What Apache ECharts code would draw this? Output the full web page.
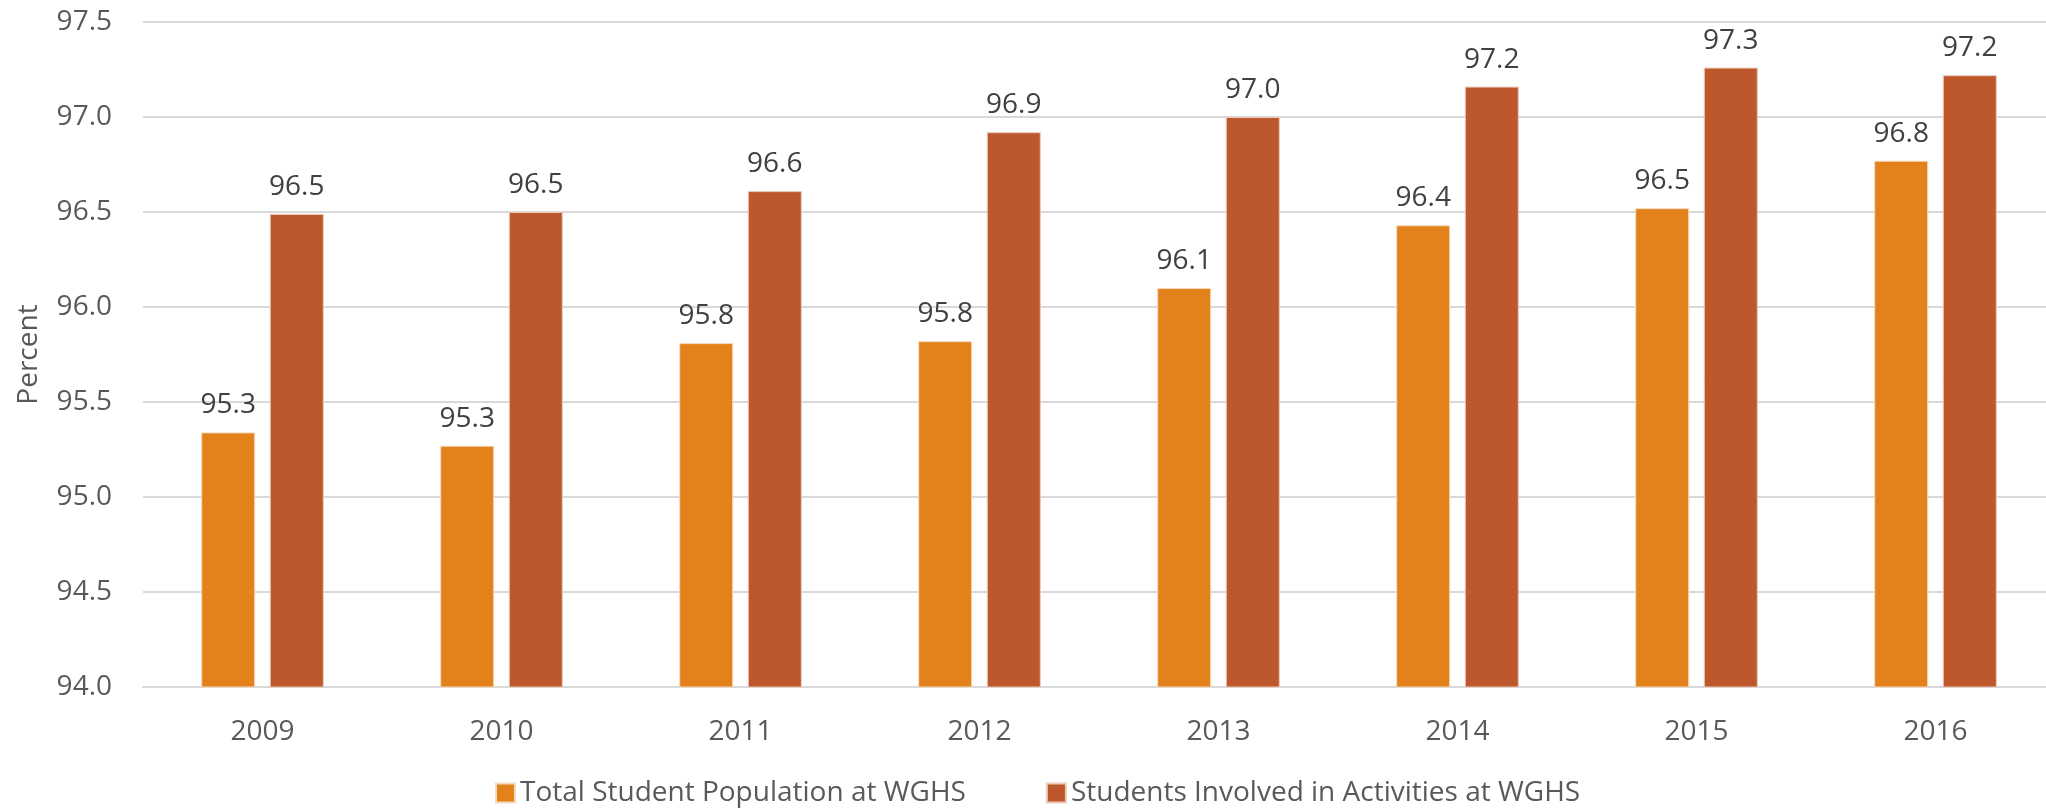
<!DOCTYPE html>
<html>
<head>
<meta charset="utf-8">
<script src="https://cdn.jsdelivr.net/npm/echarts@6/dist/echarts.min.js"></script>
<style>
  html, body { margin: 0; padding: 0; background: #ffffff; }
  #chart { width: 2046px; height: 808px; }
</style>
</head>
<body>
<div id="chart"></div>
<script>
const categories = ['2009', '2010', '2011', '2012', '2013', '2014', '2015', '2016'];
const totalPopulation = [95.34, 95.27, 95.81, 95.82, 96.10, 96.43, 96.52, 96.77];
const involvedActivities = [96.49, 96.50, 96.61, 96.92, 97.00, 97.16, 97.26, 97.22];
const seriesNames = ['Total Student Population at WGHS', 'Students Involved in Activities at WGHS'];
const yAxisName = 'Percent';

const FONT = '"Open Sans", "DejaVu Sans", sans-serif';
const chart = echarts.init(document.getElementById('chart'), null, { renderer: 'canvas' });

const labelStyle = {
  show: true,
  position: 'top',
  distance: 13,
  color: '#404040',
  fontFamily: FONT,
  fontSize: 28,
  formatter: p => p.value.toFixed(1)
};

chart.setOption({
  animation: false,
  backgroundColor: '#ffffff',
  grid: { left: 143, top: 22, width: 1912, height: 665, containLabel: false, outerBoundsMode: 'none' },
  legend: {
    show: true,
    top: 774,
    left: 490,
    itemWidth: 19,
    itemHeight: 19,
    itemGap: 80,
    textStyle: { color: '#595959', fontFamily: FONT, fontSize: 28 },
    data: seriesNames.map(n => ({ name: n, icon: 'rect' }))
  },
  xAxis: {
    type: 'category',
    data: categories,
    axisLine: { show: true, lineStyle: { color: '#d9d9d9', width: 2 } },
    axisTick: { show: false },
    axisLabel: { color: '#595959', fontFamily: FONT, fontSize: 28, margin: 31 }
  },
  yAxis: {
    type: 'value',
    min: 94,
    max: 97.5,
    interval: 0.5,
    name: yAxisName,
    nameLocation: 'middle',
    nameGap: 100,
    nameTextStyle: { color: '#595959', fontFamily: FONT, fontSize: 28 },
    axisLine: { show: false },
    axisTick: { show: false },
    splitLine: { lineStyle: { color: '#d9d9d9', width: 2 } },
    axisLabel: {
      color: '#595959', fontFamily: FONT, fontSize: 28, margin: 31,
      formatter: v => v.toFixed(1)
    }
  },
  series: [
    {
      name: seriesNames[0],
      type: 'bar',
      data: totalPopulation,
      barWidth: 54,
      barGap: '27%',
      itemStyle: { color: '#e3821a', borderColor: '#f5d9c0', borderWidth: 1 },
      label: labelStyle
    },
    {
      name: seriesNames[1],
      type: 'bar',
      data: involvedActivities,
      barWidth: 54,
      barGap: '27%',
      itemStyle: { color: '#bc582c', borderColor: '#ecc9b8', borderWidth: 1 },
      label: labelStyle
    }
  ]
});
</script>
</body>
</html>
